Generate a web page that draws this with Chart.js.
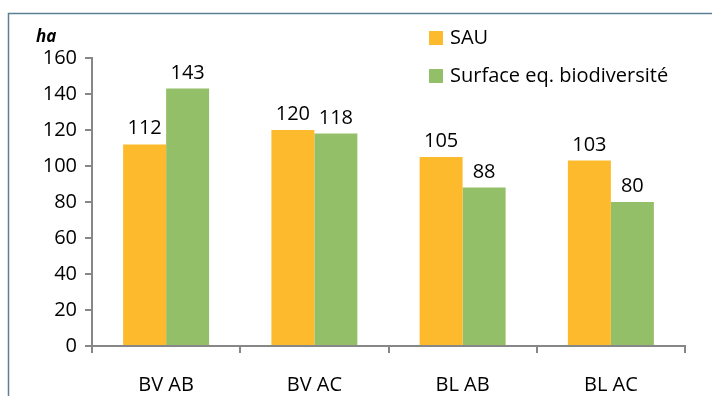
<!DOCTYPE html>
<html>
<head>
<meta charset="utf-8">
<script src="https://cdn.jsdelivr.net/npm/chart.js@4/dist/chart.umd.min.js"></script>
<style>
  html, body { margin: 0; padding: 0; background: #ffffff; }
  #wrap { width: 712px; height: 396px; position: relative; }
</style>
</head>
<body>
<div id="wrap"><canvas id="c" width="712" height="396"></canvas></div>
<script>
// Surfaces par exploitation (ha)
const categories = ['BV AB', 'BV AC', 'BL AB', 'BL AC'];
const sauValues = [112, 120, 105, 103];
const biodivValues = [143, 118, 88, 80];
const seriesNames = ['SAU', 'Surface eq. biodiversité'];
const yTicks = [0, 20, 40, 60, 80, 100, 120, 140, 160];
const unitLabel = 'ha';

const FONT = '"Open Sans", "Liberation Sans", sans-serif';
const AXIS = '#878787';
const ORANGE = '#FDBA2D';
const GREEN = '#93BF69';

// Outer frame, unit label, value labels and the vertical legend
const decorations = {
  id: 'decorations',
  beforeDraw(chart) {
    const ctx = chart.ctx;
    ctx.save();
    ctx.fillStyle = '#ffffff';
    ctx.fillRect(0, 0, chart.width, chart.height);
    ctx.strokeStyle = '#5D8093';
    ctx.lineWidth = 1.5;
    ctx.strokeRect(8.5, 13.5, chart.width + 20, chart.height + 20);
    ctx.restore();
  },
  afterDraw(chart) {
    const ctx = chart.ctx;
    ctx.save();
    // unit label
    ctx.fillStyle = '#000000';
    ctx.font = 'italic bold 17px ' + FONT;
    ctx.textAlign = 'left';
    ctx.textBaseline = 'middle';
    ctx.fillText(unitLabel, 36, 37);

    // values above bars
    ctx.font = '20px ' + FONT;
    ctx.textAlign = 'center';
    ctx.textBaseline = 'alphabetic';
    chart.data.datasets.forEach((ds, di) => {
      const meta = chart.getDatasetMeta(di);
      meta.data.forEach((bar, i) => {
        ctx.fillText(String(ds.data[i]), bar.x, bar.y - 10);
      });
    });

    // legend
    ctx.font = '20px ' + FONT;
    ctx.textAlign = 'left';
    ctx.textBaseline = 'middle';
    const lx = 429, ly = [38, 76];
    chart.data.datasets.forEach((ds, di) => {
      ctx.fillStyle = ds.backgroundColor;
      ctx.fillRect(lx, ly[di] - 7, 14, 14);
      ctx.fillStyle = '#000000';
      ctx.fillText(ds.label, lx + 21, ly[di]);
    });
    ctx.restore();
  }
};

new Chart(document.getElementById('c'), {
  type: 'bar',
  data: {
    labels: categories,
    datasets: [
      { label: seriesNames[0], data: sauValues, backgroundColor: ORANGE },
      { label: seriesNames[1], data: biodivValues, backgroundColor: GREEN }
    ]
  },
  options: {
    responsive: false,
    animation: false,
    layout: { padding: { left: 0, right: 27, top: 58, bottom: 0 } },
    datasets: { bar: { categoryPercentage: 0.58, barPercentage: 1.0 } },
    plugins: { legend: { display: false }, tooltip: { enabled: false } },
    scales: {
      x: {
        grid: { display: true, offset: true, drawOnChartArea: false, drawTicks: true, tickLength: 7, color: AXIS, lineWidth: 2 },
        border: { display: true, color: AXIS, width: 2 },
        ticks: { color: '#000000', font: { family: FONT, size: 20 }, padding: 20 },
        afterFit(scale) { scale.height = 50; }
      },
      y: {
        min: 0, max: 160,
        afterBuildTicks(scale) { scale.ticks = yTicks.map(v => ({ value: v })); },
        grid: { display: true, drawOnChartArea: false, drawTicks: true, tickLength: 7, color: AXIS, lineWidth: 2 },
        border: { display: true, color: AXIS, width: 2 },
        ticks: { color: '#000000', font: { family: FONT, size: 20 }, padding: 8 },
        afterFit(scale) { scale.width = 92; }
      }
    }
  },
  plugins: [decorations]
});
</script>
</body>
</html>
